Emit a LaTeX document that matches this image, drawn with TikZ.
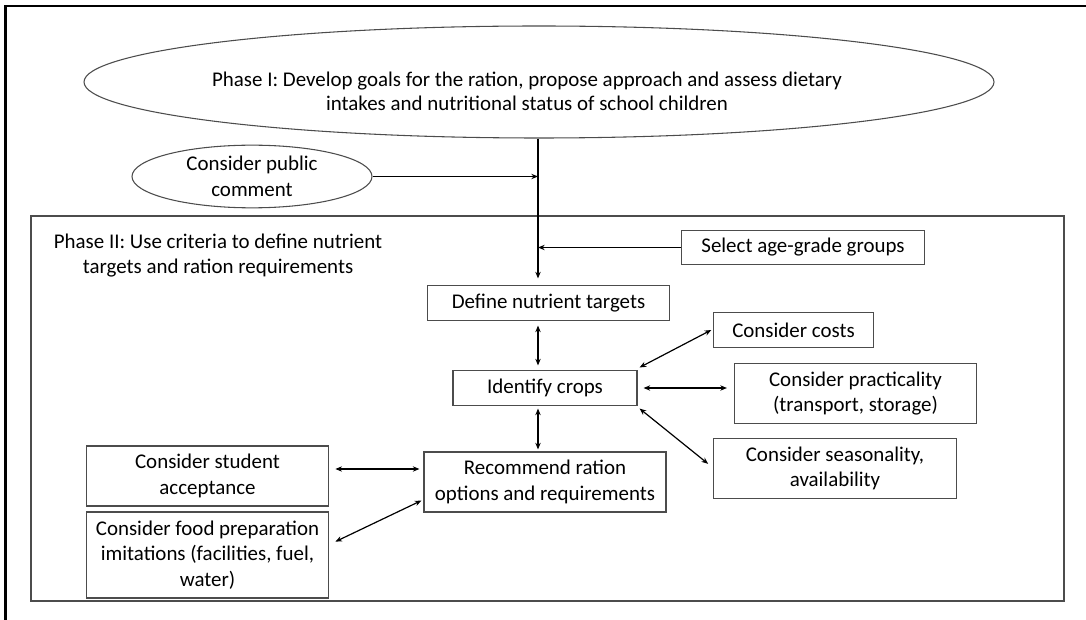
\documentclass[tikz,border=0pt]{standalone}
\usepackage{fontspec}
\setmainfont{Carlito}
\usetikzlibrary{shapes.geometric,arrows.meta}

\tikzset{
  box/.style={draw=black!70, line width=0.8pt, align=center, inner sep=2pt, minimum height=26pt},
  oval/.style={ellipse, draw=black!70, line width=0.8pt, align=center, inner sep=0pt},
  feed/.style={line width=0.9pt, -{Stealth[length=5pt,width=4pt]}},
  link/.style={line width=0.9pt, {Stealth[length=5pt,width=4pt]}-{Stealth[length=5pt,width=4pt]}},
}

\begin{document}
\begin{tikzpicture}[x=0.75pt, y=-0.75pt, font=\fontsize{15.7}{19.2}\selectfont]
    \useasboundingbox (0,0) rectangle (1086,620);
    \draw[line width=2.2pt] (5.5,620) -- (5.5,6) -- (1086,6);

    % Phase I
    \node[oval, minimum width=682.5pt, minimum height=84pt] (phase1) at (539,82) {};
    \node[align=center, font=\fontsize{15.7}{18}\selectfont] (phase1text) at (527,91)
        {Phase I: Develop goals for the ration, propose approach and assess dietary\\intakes and nutritional status of school children};
    \node[oval, minimum width=180pt, minimum height=47pt] (public) at (252,176.5) {Consider public\\comment};

    % Phase II
    \draw[black!70, line width=0.8pt] (31,216) rectangle (1064,601);
    \node[align=center] (phase2) at (218,255.5) {Phase II: Use criteria to define nutrient\\targets and ration requirements};

    \node[box, minimum width=182pt] (select) at (803,247.5) {Select age-grade groups};
    \node[box, minimum width=182pt] (define) at (548.5,303) {Define nutrient targets};
    \node[box, minimum width=138pt] (crops) at (545,388) {Identify crops};
    \node[box, minimum width=181.5pt, minimum height=45pt] (recommend) at (545,482) {Recommend ration\\options and requirements};

    \node[box, minimum width=120.5pt] (costs) at (793.5,330) {Consider costs};
    \node[box, minimum width=182pt, minimum height=45pt] (practical) at (855.5,393.5) {Consider practicality\\(transport, storage)};
    \node[box, minimum width=182.5pt, minimum height=45pt] (season) at (835,468.5) {Consider seasonality,\\availability};

    \node[box, minimum width=182pt, minimum height=45pt] (student) at (207.5,476) {Consider student\\acceptance};
    \node[box, minimum width=182pt, minimum height=64.5pt] (food) at (207.5,555) {Consider food preparation\\imitations (facilities, fuel,\\water)};

    % connectors
    \coordinate (trunk) at (538,0);
    \draw[feed] (trunk |- phase1.south) -- ([yshift=5pt]trunk |- define.north);
    \draw[feed] (public.east) -- (public.east -| trunk);
    \draw[feed] (select.west) -- (select.west -| trunk);
    \draw[link] ([yshift=-3.5pt]trunk |- define.south) -- ([yshift=3.5pt]trunk |- crops.north);
    \draw[link] ([yshift=-2pt]trunk |- crops.south) -- ([yshift=1.5pt]trunk |- recommend.north);
    \draw[link] ([shift={(1.5pt,2pt)}]crops.north east) -- ([xshift=-1pt]costs.west);
    \draw[link] ([xshift=4.5pt]crops.east) -- ([xshift=-5pt]crops.east -| practical.west);
    \draw[link] ([shift={(1.5pt,-2pt)}]crops.south east) -- ([shift={(-3.5pt,3.5pt)}]season.west);
    \draw[link] ([shift={(4.5pt,5.25pt)}]student.east) -- ([shift={(-3pt,5.25pt)}]student.east -| recommend.west);
    \draw[link] ([shift={(4.5pt,10pt)}]food.east) -- ([shift={(-1.5pt,9pt)}]recommend.south west);
\end{tikzpicture}
\end{document}
